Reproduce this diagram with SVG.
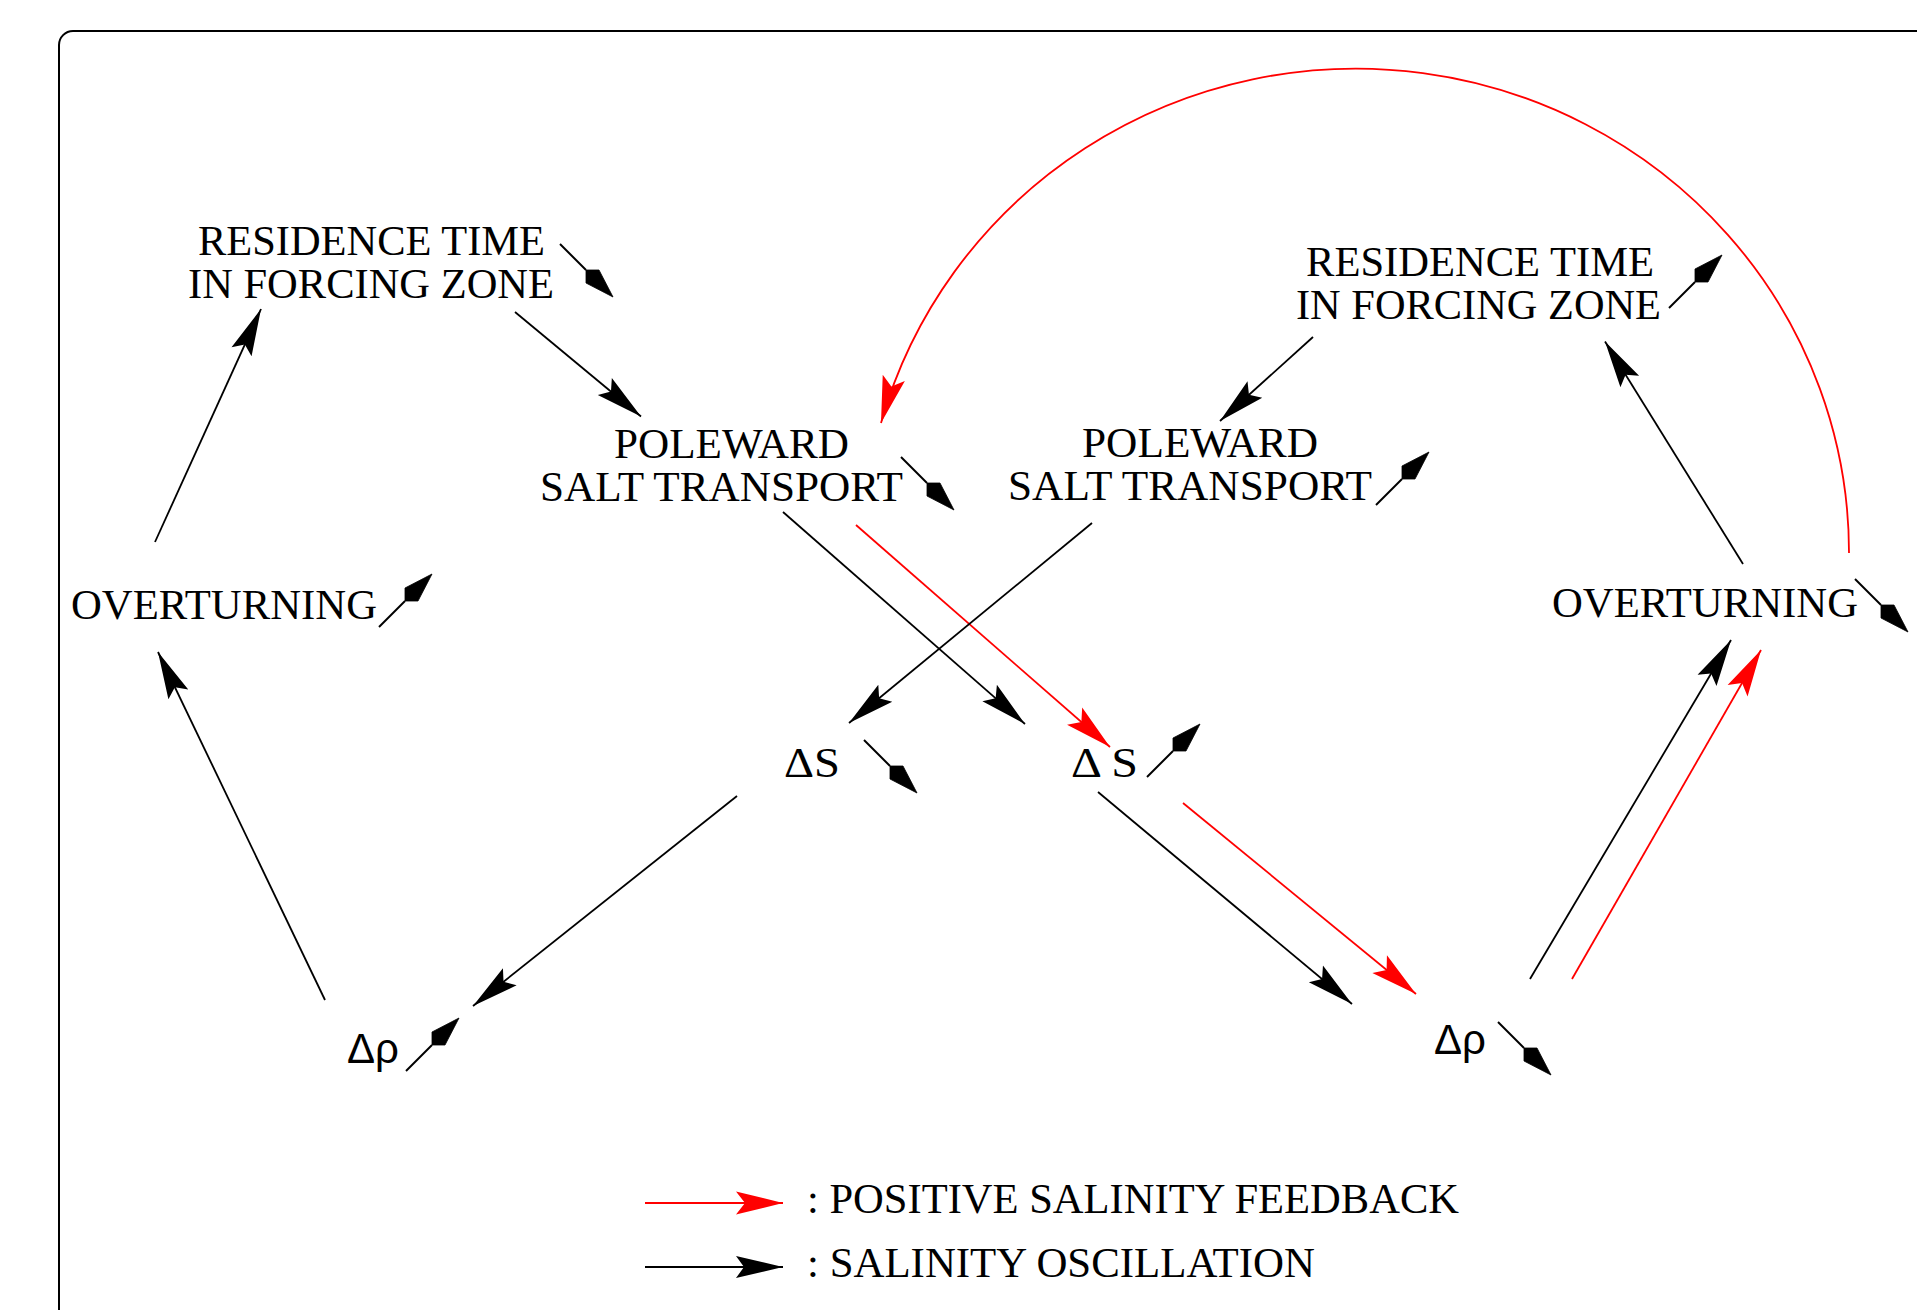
<svg xmlns="http://www.w3.org/2000/svg" xmlns:xlink="http://www.w3.org/1999/xlink" width="1917" height="1310" viewBox="0 0 1917 1310">
<style>
.t{font-family:"Liberation Serif","Times New Roman",serif;font-size:42.5px;fill:#000}
.s{font-family:"Liberation Sans",Arial,sans-serif;font-size:42px;fill:#000}
.c{stroke:#000;stroke-width:1.8;fill:none}
.r{stroke:#ff0000;stroke-width:1.8;fill:none}
.pm line{stroke:#000;stroke-width:2}
.pm path{fill:#000;stroke:#000;stroke-width:0.8;stroke-linejoin:miter}
</style>
<defs>
<marker id="ah" viewBox="-48 -12 50 24" markerWidth="50" markerHeight="24" refX="0" refY="0" orient="auto" markerUnits="userSpaceOnUse"><path d="M0,0 L-47,-11 L-39,0 L-47,11 Z" fill="#000"/></marker>
<marker id="ahr" viewBox="-48 -12 50 24" markerWidth="50" markerHeight="24" refX="0" refY="0" orient="auto" markerUnits="userSpaceOnUse"><path d="M0,0 L-47,-11.5 L-38,0 L-47,11.5 Z" fill="#ff0000"/></marker>
<g id="mdn" class="pm"><line x1="0" y1="0" x2="26" y2="26"/><path d="M26,26 L39,26 L53,53 L26,39 Z"/></g>
<g id="mup" class="pm"><line x1="0" y1="0" x2="26" y2="-26"/><path d="M26,-26 L26,-39 L53,-53 L39,-26 Z"/></g>
</defs>
<rect x="0" y="0" width="1917" height="1310" fill="#fff"/>
<path d="M59,1340 L59,45 A14,14 0 0 1 73,31 L1930,31" fill="none" stroke="#000" stroke-width="2"/>

<g id="connectors">
<line class="c" x1="155" y1="542" x2="261" y2="309" marker-end="url(#ah)"/>
<line class="c" x1="515" y1="312" x2="641" y2="416.5" marker-end="url(#ah)"/>
<line class="c" x1="783" y1="512" x2="1025" y2="724" marker-end="url(#ah)"/>
<line class="r" x1="856" y1="525" x2="1110" y2="747" marker-end="url(#ahr)"/>
<line class="c" x1="1092" y1="523" x2="849" y2="723" marker-end="url(#ah)"/>
<line class="c" x1="1313" y1="337" x2="1220" y2="421" marker-end="url(#ah)"/>
<line class="c" x1="1743" y1="564" x2="1605" y2="341.5" marker-end="url(#ah)"/>
<line class="c" x1="1530" y1="979" x2="1731" y2="640" marker-end="url(#ah)"/>
<line class="r" x1="1572" y1="979" x2="1761" y2="650" marker-end="url(#ahr)"/>
<line class="c" x1="1098" y1="792" x2="1352" y2="1004" marker-end="url(#ah)"/>
<line class="r" x1="1183" y1="803" x2="1416" y2="994" marker-end="url(#ahr)"/>
<line class="c" x1="737" y1="796" x2="473" y2="1006" marker-end="url(#ah)"/>
<line class="c" x1="325" y1="1000" x2="158" y2="652" marker-end="url(#ah)"/>
<path class="r" d="M1849,553 A493,484 0 0 0 881,423" marker-end="url(#ahr)"/>
</g>

<g id="res-left">
<text class="t" x="198" y="255" textLength="347" lengthAdjust="spacingAndGlyphs">RESIDENCE TIME</text>
<text class="t" x="188" y="298" textLength="366" lengthAdjust="spacingAndGlyphs">IN FORCING ZONE</text>
<use xlink:href="#mdn" x="560" y="244"/>
</g>
<g id="pole-left">
<text class="t" x="614" y="458" textLength="235" lengthAdjust="spacingAndGlyphs">POLEWARD</text>
<text class="t" x="540" y="501" textLength="363" lengthAdjust="spacingAndGlyphs">SALT TRANSPORT</text>
<use xlink:href="#mdn" x="901" y="457"/>
</g>
<g id="pole-right">
<text class="t" x="1082" y="457" textLength="236" lengthAdjust="spacingAndGlyphs">POLEWARD</text>
<text class="t" x="1008" y="500" textLength="364" lengthAdjust="spacingAndGlyphs">SALT TRANSPORT</text>
<use xlink:href="#mup" x="1376" y="505"/>
</g>
<g id="res-right">
<text class="t" x="1306" y="275.5" textLength="348" lengthAdjust="spacingAndGlyphs">RESIDENCE TIME</text>
<text class="t" x="1296" y="318.5" textLength="365" lengthAdjust="spacingAndGlyphs">IN FORCING ZONE</text>
<use xlink:href="#mup" x="1669" y="308"/>
</g>
<g id="over-left">
<text class="t" x="71" y="619" textLength="306" lengthAdjust="spacingAndGlyphs">OVERTURNING</text>
<use xlink:href="#mup" x="379" y="627"/>
</g>
<g id="over-right">
<text class="t" x="1552" y="617" textLength="306" lengthAdjust="spacingAndGlyphs">OVERTURNING</text>
<use xlink:href="#mdn" x="1855" y="579"/>
</g>
<g id="ds-left">
<text class="t" x="784" y="777" textLength="56" lengthAdjust="spacingAndGlyphs">ΔS</text>
<use xlink:href="#mdn" x="864" y="740"/>
</g>
<g id="ds-right">
<text class="t" x="1071" y="777" textLength="67" lengthAdjust="spacingAndGlyphs">Δ S</text>
<use xlink:href="#mup" x="1147" y="777"/>
</g>
<g id="drho-left">
<text class="s" x="347" y="1063">Δρ</text>
<use xlink:href="#mup" x="406" y="1071"/>
</g>
<g id="drho-right">
<text class="s" x="1434" y="1054">Δρ</text>
<use xlink:href="#mdn" x="1498" y="1022"/>
</g>

<g id="legend">
<line x1="645" y1="1203" x2="783" y2="1203" stroke="#ff0000" stroke-width="2" marker-end="url(#ahr)"/>
<text class="t" x="807" y="1213" textLength="652" lengthAdjust="spacingAndGlyphs">: POSITIVE SALINITY FEEDBACK</text>
<line x1="645" y1="1267" x2="783" y2="1267" stroke="#000" stroke-width="2" marker-end="url(#ah)"/>
<text class="t" x="807" y="1277" textLength="508" lengthAdjust="spacingAndGlyphs">: SALINITY OSCILLATION</text>
</g>
</svg>
